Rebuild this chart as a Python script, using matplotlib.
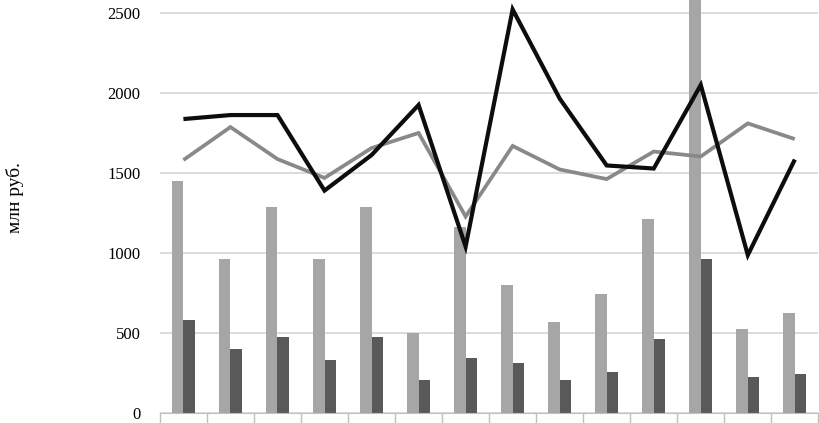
import numpy as np
import matplotlib.pyplot as plt

plt.rcParams['font.family'] = ['Liberation Serif', 'DejaVu Serif']

n = 14
bars_light = [1450, 962, 1287, 962, 1287, 500, 1160, 800, 569, 744, 1212, 2700, 525, 625]
bars_dark = [581, 400, 475, 331, 475, 206, 344, 312, 206, 256, 462, 962, 225, 244]
line_gray = [1581, 1787, 1587, 1469, 1656, 1750, 1228, 1669, 1522, 1462, 1634, 1603, 1810, 1712]
line_black = [1837, 1862, 1862, 1390, 1612, 1925, 1040, 2522, 1965, 1547, 1528, 2050, 987, 1584]
yticks = [0, 500, 1000, 1500, 2000, 2500]

x = np.arange(n)
w = 0.245

fig = plt.figure(figsize=(8.2, 4.23), dpi=100)
ax = fig.add_axes([0.195, 0.0236, 0.803, 0.9764])

ax.bar(x - w / 2, bars_light, width=w, color='#a6a6a6', zorder=2)
ax.bar(x + w / 2, bars_dark, width=w, color='#595959', zorder=2)
ax.plot(x, line_gray, color='#898989', lw=2.7, zorder=3,
        solid_joinstyle='miter', solid_capstyle='butt')
ax.plot(x, line_black, color='#0d0d0d', lw=3.0, zorder=4,
        solid_joinstyle='miter', solid_capstyle='butt')

ax.set_xlim(-0.5, n - 0.5)
ax.set_ylim(0, 2581)
ax.set_yticks(yticks)
ax.set_yticklabels([str(v) for v in yticks], fontsize=12)
ax.yaxis.grid(True, color='#d9d9d9', lw=1.3, zorder=0)
ax.set_axisbelow(True)

ax.set_xticks(np.arange(-0.5, n, 1.0))
ax.set_xticklabels([])
ax.tick_params(axis='x', length=8, color='#bfbfbf', width=1)
ax.tick_params(axis='y', length=0, pad=14)

for s in ['top', 'right', 'left']:
    ax.spines[s].set_visible(False)
ax.spines['bottom'].set_color('#bfbfbf')

fig.text(0.018, 0.534, 'млн руб.', rotation=90, fontsize=14, va='center', ha='center')

fig.savefig('out.png', dpi=100)
